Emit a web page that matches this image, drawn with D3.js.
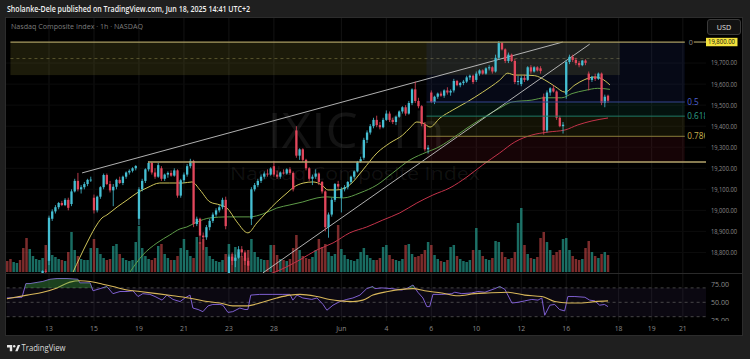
<!DOCTYPE html>
<html><head><meta charset="utf-8">
<script src="https://cdn.jsdelivr.net/npm/d3@7"></script>
<style>
html,body{margin:0;padding:0;background:#1f1f1f;}
svg{display:block;}
text{font-family:"Open Sans","Noto Sans",sans-serif;}
</style></head><body>
<svg id="c" width="750" height="359"></svg>
<script>
// ---------- DATA (hourly bars, NASDAQ Composite, May 9 – Jun 17 2025) ----------
const firstBar = -6; // bar index of the first element (May 9 partial session)
const opens = [
 17940,17910,17895,17925,17935,17935,
 18640,18610,18650,18670,18680,18695,18712,
 18760,18960,18995,19015,19035,19025,19050,
 19030,19090,19140,19100,19110,19125,19145,
 19060,19000,19065,19110,19168,19125,19095,
 19112,19145,19130,19160,19180,19188,19200,
 18960,19100,19140,19195,19225,19180,19160,
 19200,19150,19170,19178,19165,19190,19070,
 19143,19170,19210,19235,18935,18960,18880,
 18872,18920,18950,18980,19000,19015,19050,
 18700,18780,18760,18775,18815,18800,18760,
 18960,19100,19120,19140,19160,19175,19170,
 19210,19170,19160,19180,19175,19195,19178,
 19380,19260,19290,19240,19200,19150,19160,
 19175,19135,19090,18920,18980,19050,19125,
 19060,19100,19110,19135,19160,19185,19230,
 19250,19335,19370,19400,19430,19405,19395,
 19430,19460,19430,19420,19445,19470,19490,
 19460,19510,19575,19520,19495,19410,19290,
 19560,19515,19540,19555,19545,19570,19560,
 19570,19615,19595,19605,19612,19632,19640,
 19620,19650,19665,19650,19675,19680,19660,
 19725,19795,19765,19710,19740,19710,19610,
 19600,19630,19620,19680,19660,19680,19675,
 19540,19380,19560,19580,19565,19440,19400,
 19550,19705,19730,19715,19700,19690,19712,
 19650,19620,19635,19625,19650,19510,19545];
const highs = [
 17960,17925,17935,17945,17940,17945,
 18680,18660,18680,18690,18700,18715,18720,
 18975,19005,19025,19040,19045,19058,19060,
 19100,19150,19178,19120,19135,19150,19160,
 19075,19070,19115,19175,19175,19140,19125,
 19150,19160,19165,19185,19195,19205,19215,
 19110,19150,19200,19232,19230,19200,19225,
 19210,19175,19185,19190,19200,19195,19150,
 19180,19220,19245,19240,18970,18965,18895,
 18930,18960,18990,19010,19025,19060,19065,
 18790,18800,18790,18830,18830,18810,18775,
 19110,19130,19150,19170,19185,19195,19205,
 19235,19190,19185,19195,19200,19205,19185,
 19400,19295,19295,19245,19205,19170,19195,
 19180,19140,19095,18990,19060,19130,19140,
 19110,19120,19140,19165,19190,19235,19255,
 19345,19380,19410,19440,19450,19420,19440,
 19475,19470,19440,19450,19475,19495,19500,
 19520,19580,19612,19535,19500,19420,19310,
 19570,19545,19560,19565,19575,19585,19575,
 19625,19620,19610,19620,19640,19645,19645,
 19660,19670,19670,19680,19690,19685,19740,
 19805,19800,19770,19750,19745,19720,19640,
 19640,19645,19685,19690,19685,19685,19685,
 19555,19570,19585,19595,19570,19450,19420,
 19715,19740,19740,19725,19710,19715,19718,
 19660,19640,19650,19655,19655,19550,19550];
const lows = [
 17900,17880,17890,17915,17905,17920,
 18590,18600,18640,18660,18670,18690,18695,
 18740,18950,18985,19005,19020,19020,19000,
 19020,19085,19090,19080,19100,19115,19135,
 18985,18990,19055,19100,19120,19085,19020,
 19100,19125,19120,19150,19170,19180,19190,
 18930,19090,19130,19185,19170,19150,19155,
 19140,19140,19155,19160,19160,19060,19060,
 19130,19160,19200,18920,18925,18840,18812,
 18860,18905,18940,18970,18990,19005,18910,
 18680,18740,18730,18770,18780,18740,18715,
 18930,19090,19110,19130,19150,19160,19165,
 19160,19150,19150,19170,19170,19170,19090,
 19250,19240,19230,19190,19140,19120,19150,
 19120,19080,18900,18870,18970,19040,19100,
 18990,19090,19100,19125,19150,19180,19225,
 19240,19320,19360,19390,19395,19385,19390,
 19425,19420,19410,19405,19440,19460,19450,
 19455,19500,19510,19485,19400,19280,19270,
 19510,19505,19530,19540,19535,19550,19545,
 19560,19590,19585,19595,19605,19620,19600,
 19610,19640,19645,19645,19665,19650,19655,
 19715,19760,19700,19700,19705,19600,19595,
 19590,19610,19615,19650,19655,19660,19650,
 19360,19370,19545,19560,19430,19395,19365,
 19530,19695,19705,19690,19680,19685,19690,
 19570,19610,19615,19620,19500,19490,19510];
const closes = [
 17910,17895,17925,17935,17915,17929,
 18610,18650,18670,18680,18695,18712,18708,
 18965,18995,19015,19035,19025,19050,19012,
 19090,19140,19100,19110,19125,19145,19146,
 19000,19065,19110,19168,19125,19095,19112,
 19145,19130,19160,19180,19188,19200,19211,
 19100,19140,19195,19225,19180,19160,19215,
 19150,19170,19178,19165,19190,19070,19143,
 19170,19210,19235,18935,18960,18880,18872,
 18920,18950,18980,19000,19015,19050,18925,
 18780,18760,18775,18815,18800,18760,18737,
 19100,19120,19140,19160,19175,19170,19199,
 19170,19160,19180,19175,19195,19178,19100,
 19260,19290,19240,19200,19150,19160,19175,
 19135,19090,18920,18980,19050,19125,19113,
 19100,19110,19135,19160,19185,19230,19243,
 19335,19370,19400,19430,19405,19395,19430,
 19460,19430,19420,19445,19470,19490,19460,
 19510,19575,19520,19495,19410,19290,19298,
 19515,19540,19555,19545,19570,19560,19568,
 19615,19595,19605,19612,19632,19640,19610,
 19650,19665,19650,19675,19680,19660,19725,
 19795,19765,19710,19740,19710,19610,19615,
 19630,19620,19680,19660,19680,19665,19662,
 19380,19560,19580,19565,19440,19400,19407,
 19705,19730,19715,19700,19690,19712,19701,
 19620,19635,19625,19650,19510,19540,19521];
const volumes = [
 110,130,100,90,120,240,
 340,230,160,130,120,140,270,
 220,170,150,130,120,110,200,
 400,220,160,130,120,120,240,
 330,240,180,140,120,130,260,
 280,180,140,120,110,120,300,
 460,240,160,130,120,140,260,
 280,180,140,120,120,160,240,
 330,220,160,140,350,300,330,
 250,160,130,110,100,120,180,
 280,180,250,200,160,140,220,
 330,200,150,130,120,120,270,
 270,170,130,120,110,130,240,
 370,220,160,140,130,150,220,
 330,250,280,200,160,180,470,
 230,170,130,120,110,130,200,
 240,170,140,120,120,140,250,
 270,170,130,120,110,130,270,
 280,180,150,160,180,220,300,
 270,170,130,110,100,120,250,
 270,160,130,110,100,120,220,
 440,220,160,130,120,140,310,
 300,200,150,130,140,200,490,
 640,270,180,140,130,150,340,
 400,300,220,170,200,220,330,
 340,220,160,130,120,130,240,
 310,200,160,140,180,200,170];

// moving averages: [bar, price]
const maFast = [[14.5,18707],[18.8,18845],[21.3,18917],[23.5,18964],[25,18978],[28.2,19016],[31.3,19049],[34.4,19083],[37.5,19107],[41.5,19130],[44.6,19130],[48.7,19130],[51.5,19135],[54,19097],[57.1,19040],[60.2,19026],[62.4,19011],[65.5,18945],[68.9,18893],[71.7,18940],[74.8,18992],[77.9,19040],[81.1,19083],[82.9,19107],[86.2,19130],[89.1,19135],[91.9,19121],[93.8,19097],[96.5,19097],[100.6,19121],[104.7,19192],[109.1,19273],[113.1,19320],[117.1,19358],[119.3,19391],[121.5,19420],[123.4,19415],[125.6,19396],[128.7,19439],[132.7,19477],[137.1,19515],[142,19562],[147.3,19619],[149.8,19652],[152,19643],[154.5,19643],[158.2,19640],[161.3,19620],[164.4,19590],[167.6,19562],[170.7,19596],[173.8,19622],[176.9,19634],[179.1,19625],[181.6,19596]];
const maMid = [[32.2,18707],[36.2,18788],[40.6,18845],[44.6,18883],[47.8,18912],[49.9,18921],[53.1,18945],[57.1,18964],[62.4,18969],[65.5,18969],[69.5,18969],[73.6,18983],[77.9,19011],[82,19026],[86,19040],[90.4,19059],[93.5,19064],[98.5,19059],[103.8,19083],[109.1,19121],[114,19178],[119.3,19239],[124.6,19277],[127.7,19296],[131.8,19334],[137.1,19391],[142,19439],[147.3,19486],[151.1,19515],[157.3,19524],[161.3,19535],[166.6,19535],[169.8,19555],[173.8,19570],[177.8,19580],[181.6,19575]];
const maSlow = [[74,18690],[76.7,18703],[85.1,18765],[90.4,18812],[95.4,18845],[100.6,18893],[105.9,18921],[110.9,18954],[116.2,18988],[121.5,19035],[126.5,19073],[131.8,19107],[137.1,19159],[142,19216],[147.3,19273],[152,19325],[157.3,19358],[162.3,19372],[167.6,19382],[171.6,19406],[176,19425],[181,19439]];

// RSI and its moving average: [bar, value]
const rsi = [[-6.1,56],[-1.4,57],[-0.2,76],[1.1,76],[5.1,79],[7.3,82],[9.5,83],[12.6,83],[16,82],[16.6,77],[19.8,77],[20.7,66],[22.9,69],[25,72],[26.9,62],[29.1,65],[31.3,65],[33.1,66],[34.7,58],[36.2,62],[38.4,61],[40,58],[42.2,53],[43.7,60],[45.6,54],[47.8,51],[49.3,56],[50.9,60],[51.8,42],[53.4,40],[54.9,37],[56.5,45],[58,47],[60.2,47],[61.1,46],[62.7,36],[64.2,37],[66.4,42],[68,40],[68.9,40],[69.8,60],[72.6,61],[76.7,61],[79.8,61],[82,61],[82.9,53],[84.2,60],[86,56],[88.8,54],[90.4,56],[92.3,47],[93.5,39],[95.4,46],[97.5,51],[99.7,54],[101.6,56],[103.8,60],[105.9,69],[107.8,72],[108.4,69],[110.6,70],[113.7,69],[116.8,67],[118.7,70],[120.3,74],[121.8,64],[123.4,56],[124.6,44],[125.5,44],[126.5,61],[129.3,61],[132.4,62],[133.3,64],[135.5,62],[138.6,63],[140.5,65],[142.7,64],[145.8,69],[147.3,72],[148.9,68],[151.1,49],[153,50],[155.1,52],[157.3,54],[159.2,53],[160.4,56],[161.3,32],[162.9,46],[164.4,47],[165.9,40],[167.5,38],[168.5,58],[170.7,58],[173.8,57],[175.3,53],[176.9,52],[178.4,46],[179.9,47],[181,44]];
const rsiMa = [[-6.1,55],[0.2,60],[5.1,64],[9.5,70],[13.5,78],[16.6,80],[19.8,79],[22.9,76],[26.9,72],[31.3,67],[35.3,65],[40.6,62],[45.6,59],[51.8,55],[56.2,51],[60.2,49],[64.2,45],[68.6,45],[72.6,49],[77.9,56],[82,60],[85.1,61],[90.4,58],[94.4,54],[97.5,52],[101.6,51],[104.7,53],[107.8,60],[112.5,65],[116.8,68],[120.3,69],[123.9,66],[129.3,63],[134.3,59],[139.5,62],[143.6,63],[149.8,64],[155.1,60],[160.4,58],[164.4,51],[168.5,49],[172.8,49],[176.9,51],[181,52]];

const dateLabels = ["13","15","19","21","23","28","Jun","4","6","10","12","16","18","19","21"];
const dateSlots  = [7,21,35,49,63,77,98,112,126,140,154,168,184.3,194.6,204.3];
const priceTicks = [18800,18900,19000,19100,19200,19300,19400,19500,19600,19700];
const rsiTicks = [75,50,25];
const rsiLevels = [70,50,30];

// drawings
const fibHigh = 19800, fibLow = 19230;
const fibLevels = [0,0.5,0.618,0.786,1];
const fibLabels = ["0","0.5","0.618","0.786","1"];
const fibStartBar = 124.5, fibEndBar = 204.9;
const boxBars = [-5, 184.7], boxPrices = [19800, 19643];
const supportPrice = 19230, supportStartBar = 37.8;
const upperTrend = [[17.3,19178],[166.9,19800]];
const lowerTrend = [[73.6,18703],[175.3,19790]];

(function(){
// ---------- DRAW ----------
const svg = d3.select("#c");
const UP="#45bfd3", DN="#e2475c";
svg.append("rect").attr("width",750).attr("height",359).attr("fill","#1f1f1f");
svg.append("rect").attr("x",5.5).attr("y",17.5).attr("width",737).attr("height",318).attr("fill","#000").attr("stroke","#2c2c2c");

const xs = d3.scaleLinear().domain([-6.2,211.5]).range([6.6,706]);
const ys = d3.scaleLinear().domain([18707,19919]).range([272,17]);
const vs = d3.scaleLinear().domain([0,800]).range([272,192]);
const rs = d3.scaleLinear().domain([25,75]).range([320.3,284.3]);

const defs = svg.append("defs");
defs.append("clipPath").attr("id","cm").append("rect").attr("x",6).attr("y",18).attr("width",700).attr("height",255);
defs.append("clipPath").attr("id","cr").append("rect").attr("x",6).attr("y",274).attr("width",700).attr("height",47);
defs.append("clipPath").attr("id","crTop").append("rect").attr("x",6).attr("y",274).attr("width",700).attr("height",rs(70)-274);
defs.append("clipPath").attr("id","cl").append("rect").attr("x",0).attr("y",274).attr("width",750).attr("height",47);
defs.append("clipPath").attr("id","cf").append("rect").attr("x",0).attr("y",0).attr("width",705).attr("height",359);

// grid
const grid = svg.append("g");
dateSlots.forEach(s=>grid.append("line").attr("x1",xs(s)).attr("x2",xs(s)).attr("y1",18).attr("y2",321).attr("stroke","#131313"));
priceTicks.forEach(p=>grid.append("line").attr("x1",6).attr("x2",706).attr("y1",ys(p)).attr("y2",ys(p)).attr("stroke","#0c0c0c"));

// watermark
svg.append("text").attr("x",356).attr("y",148).attr("text-anchor","middle").attr("font-size",49)
  .attr("textLength",177).attr("lengthAdjust","spacingAndGlyphs").attr("fill","rgba(255,255,255,0.075)").text("IXIC, 1h");
svg.append("text").attr("x",355).attr("y",180).attr("text-anchor","middle").attr("font-size",19)
  .attr("textLength",250).attr("lengthAdjust","spacingAndGlyphs").attr("fill","rgba(255,255,255,0.075)").text("Nasdaq Composite Index");

const main = svg.append("g").attr("clip-path","url(#cm)");

// rectangle drawing
main.append("rect").attr("x",xs(boxBars[0])).attr("width",xs(boxBars[1])-xs(boxBars[0]))
  .attr("y",ys(boxPrices[0])).attr("height",ys(boxPrices[1])-ys(boxPrices[0])).attr("fill","rgba(200,190,70,0.14)");
main.append("line").attr("x1",xs(boxBars[0])).attr("x2",xs(boxBars[1]))
  .attr("y1",ys((boxPrices[0]+boxPrices[1])/2)).attr("y2",ys((boxPrices[0]+boxPrices[1])/2))
  .attr("stroke","rgba(200,190,110,0.35)").attr("stroke-dasharray","3,3");

// fib zones
const fibPrice = l => fibHigh - (fibHigh-fibLow)*l;
const zoneFill = ["rgba(45,70,170,0.13)","rgba(30,150,115,0.12)","rgba(170,160,50,0.11)","rgba(170,30,50,0.13)"];
const fibLine = ["#a99c62","#34448e","#1f7a66","#8a7c3a","#b5a46c"];
const fibText = ["#8d8d8d","#4f62d0","#2fa38c","#c8b04c","#b5a46c"];
for(let i=0;i<fibLevels.length-1;i++){
  main.append("rect").attr("x",xs(fibStartBar)).attr("width",xs(fibEndBar)-xs(fibStartBar))
    .attr("y",ys(fibPrice(fibLevels[i]))).attr("height",ys(fibPrice(fibLevels[i+1]))-ys(fibPrice(fibLevels[i])))
    .attr("fill",zoneFill[i]);
}

// volume
const bars = opens.map((o,i)=>({k:firstBar+i,o,h:highs[i],l:lows[i],c:closes[i],v:volumes[i]}));
main.selectAll(".vol").data(bars).enter().append("rect")
  .attr("x",d=>xs(d.k)-1.25).attr("width",2.5).attr("y",d=>vs(d.v)).attr("height",d=>vs(0)-vs(d.v))
  .attr("fill",d=>d.c>=d.o?"rgba(40,175,158,0.62)":"rgba(225,80,80,0.55)");

// moving averages
const lineP = d3.line().x(d=>xs(d[0])).y(d=>ys(d[1])).curve(d3.curveMonotoneX);
main.append("path").attr("d",lineP(maSlow)).attr("fill","none").attr("stroke","#c4334a").attr("stroke-width",1);
main.append("path").attr("d",lineP(maMid)).attr("fill","none").attr("stroke","#5e9b48").attr("stroke-width",1);
main.append("path").attr("d",lineP(maFast)).attr("fill","none").attr("stroke","#cfc65a").attr("stroke-width",1);

// trendlines
[upperTrend,lowerTrend].forEach(t=>main.append("line").attr("x1",xs(t[0][0])).attr("y1",ys(t[0][1]))
  .attr("x2",xs(t[1][0])).attr("y2",ys(t[1][1])).attr("stroke","#c4c4c4").attr("stroke-width",0.9));

// candles
const cg = main.append("g");
bars.forEach(d=>{
  const col = d.c>=d.o?UP:DN;
  cg.append("line").attr("x1",xs(d.k)).attr("x2",xs(d.k)).attr("y1",ys(d.h)).attr("y2",ys(d.l)).attr("stroke",col).attr("stroke-width",0.8);
  const y0 = ys(Math.max(d.o,d.c)), y1 = ys(Math.min(d.o,d.c));
  cg.append("rect").attr("x",xs(d.k)-1.15).attr("width",2.3).attr("y",y0).attr("height",Math.max(0.8,y1-y0)).attr("fill",col);
});

// fib lines + support line + labels
const fg = svg.append("g");
fg.append("line").attr("x1",xs(boxBars[0])).attr("x2",xs(fibEndBar)).attr("y1",ys(fibHigh)).attr("y2",ys(fibHigh)).attr("stroke",fibLine[0]).attr("stroke-width",1.2);
fg.append("line").attr("x1",xs(fibEndBar)+9).attr("x2",706).attr("y1",ys(fibHigh)).attr("y2",ys(fibHigh)).attr("stroke",fibLine[0]).attr("stroke-width",1.2);
for(let i=1;i<fibLevels.length-1;i++){
  fg.append("line").attr("x1",xs(fibStartBar)).attr("x2",xs(fibEndBar)).attr("y1",ys(fibPrice(fibLevels[i]))).attr("y2",ys(fibPrice(fibLevels[i])))
    .attr("stroke",fibLine[i]).attr("stroke-width",1);
}
fg.append("line").attr("x1",xs(supportStartBar)).attr("x2",706).attr("y1",ys(supportPrice)).attr("y2",ys(supportPrice)).attr("stroke","#b5a46c").attr("stroke-width",1.5);
const fl = svg.append("g").attr("clip-path","url(#cf)");
fibLevels.forEach((l,i)=>{
  if(i===4) return;
  fl.append("text").attr("x",xs(fibEndBar)+(i===0?4:2.5)).attr("y",ys(fibPrice(l))+2.7).attr("font-size",i===0?7.2:8.2)
    .attr("fill",fibText[i]).text(fibLabels[i]);
});

// legend
svg.append("text").attr("x",11).attr("y",28.5).attr("font-size",7.2).attr("fill","#7c7c7c")
  .attr("textLength",132).attr("lengthAdjust","spacingAndGlyphs").text("Nasdaq Composite Index · 1h · NASDAQ");

// price axis
const fmt = d3.format(",.2f");
priceTicks.forEach(p=>svg.append("text").attr("x",711).attr("y",ys(p)+2.4).attr("font-size",6.8).attr("fill","#8a8a8a")
  .attr("textLength",26).attr("lengthAdjust","spacingAndGlyphs").text(fmt(p)));
svg.append("rect").attr("x",706).attr("y",ys(fibHigh)-4.2).attr("width",31.5).attr("height",8.4).attr("fill","#f3e33c");
svg.append("text").attr("x",708).attr("y",ys(fibHigh)+2.4).attr("font-size",6.8).attr("fill","#111")
  .attr("textLength",27).attr("lengthAdjust","spacingAndGlyphs").text(fmt(fibHigh));
svg.append("rect").attr("x",707.5).attr("y",19.5).attr("width",33).attr("height",15).attr("rx",2.5).attr("fill","#121212").attr("stroke","#3a3a3a");
svg.append("text").attr("x",724).attr("y",29.8).attr("text-anchor","middle").attr("font-size",7.2).attr("fill","#e0e0e0").text("USD");

// pane separator
svg.append("line").attr("x1",5.5).attr("x2",742.5).attr("y1",273.5).attr("y2",273.5).attr("stroke","#2a2a2a");

// RSI pane
const rp = svg.append("g").attr("clip-path","url(#cr)");
rp.append("rect").attr("x",xs(-6.2)).attr("width",706-xs(-6.2)).attr("y",rs(70)).attr("height",rs(30)-rs(70)).attr("fill","rgba(126,87,194,0.09)");
rsiLevels.forEach(v=>rp.append("line").attr("x1",xs(-6.2)).attr("x2",706).attr("y1",rs(v)).attr("y2",rs(v))
  .attr("stroke","#565656").attr("stroke-width",0.8).attr("stroke-dasharray","3,3"));
const rArea = d3.area().x(d=>xs(d[0])).y0(rs(70)).y1(d=>rs(d[1]));
svg.append("path").attr("clip-path","url(#crTop)").attr("d",rArea(rsi)).attr("fill","rgba(70,170,80,0.38)");
const rLine = d3.line().x(d=>xs(d[0])).y(d=>rs(d[1]));
rp.append("path").attr("d",rLine(rsi)).attr("fill","none").attr("stroke","#7e5fd0").attr("stroke-width",1);
const rLineS = d3.line().x(d=>xs(d[0])).y(d=>rs(d[1])).curve(d3.curveMonotoneX);
rp.append("path").attr("d",rLineS(rsiMa)).attr("fill","none").attr("stroke","#d8b75a").attr("stroke-width",1.1);
const rl = svg.append("g").attr("clip-path","url(#cl)");
rsiTicks.forEach(v=>rl.append("text").attr("x",711).attr("y",rs(v)+2.4).attr("font-size",6.8).attr("fill","#8a8a8a")
  .attr("textLength",18).attr("lengthAdjust","spacingAndGlyphs").text(d3.format(".2f")(v)));

// time axis
dateLabels.forEach((t,i)=>svg.append("text").attr("x",xs(dateSlots[i])).attr("y",330.5).attr("text-anchor","middle")
  .attr("font-size",6.8).attr("fill","#8a8a8a").text(t));

// header & footer
svg.append("text").attr("x",7).attr("y",11.5).attr("font-size",8.6).attr("font-weight",600).attr("fill","#f2f2f2")
  .attr("textLength",243).attr("lengthAdjust","spacingAndGlyphs").text("Sholanke-Dele published on TradingView.com, Jun 18, 2025 14:41 UTC+2");
svg.append("path").attr("d","M7 345h5.2v6.2h-2.4v-3.8H7z M15.2 351.2l2.6-6.2h2.4l-2.6 6.2z").attr("fill","#e6e6e6");
svg.append("circle").attr("cx",14.2).attr("cy",346.3).attr("r",1.2).attr("fill","#e6e6e6");
svg.append("text").attr("x",21.5).attr("y",351).attr("font-size",8.6).attr("fill","#dcdcdc")
  .attr("textLength",44).attr("lengthAdjust","spacingAndGlyphs").text("TradingView");
})();
</script></body></html>
